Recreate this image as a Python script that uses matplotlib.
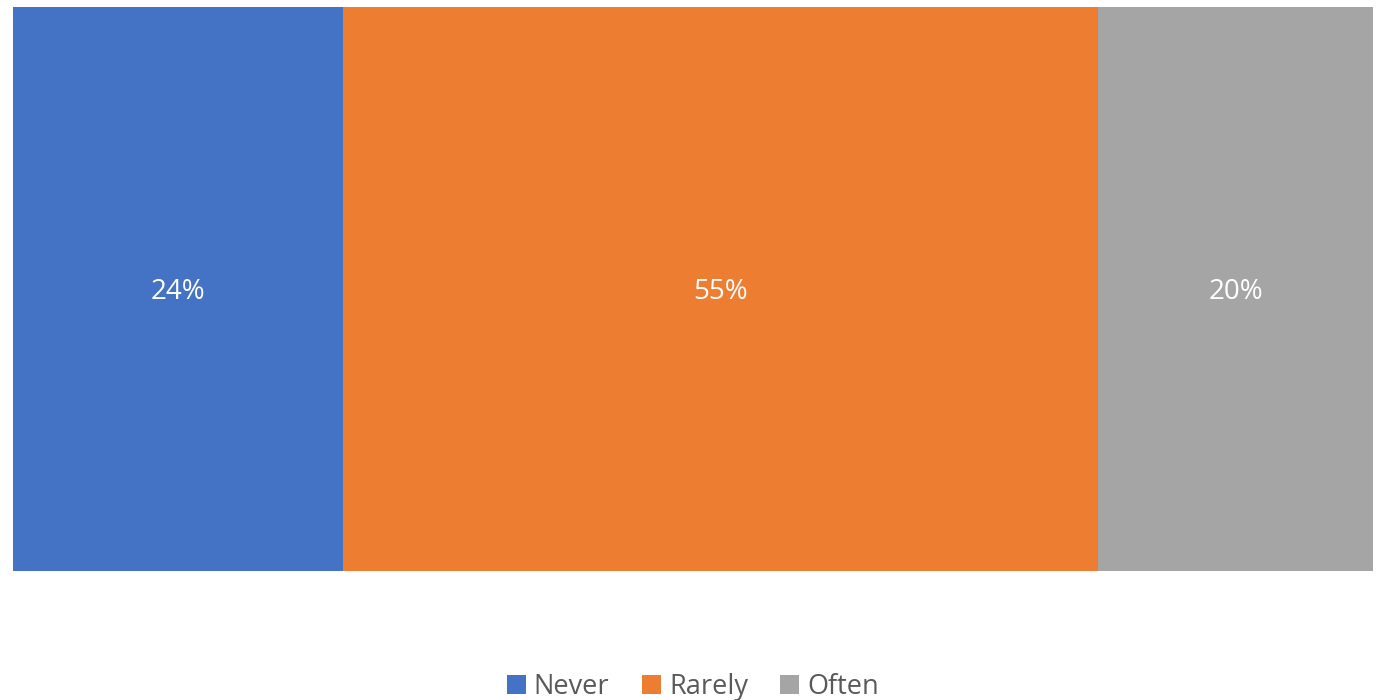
import matplotlib
matplotlib.use("Agg")
import matplotlib.pyplot as plt
from matplotlib.patches import Patch

categories = ["Never", "Rarely", "Often"]
values = [24, 55, 20]
labels = ["24%", "55%", "20%"]
colors = ["#4472C4", "#ED7D31", "#A5A5A5"]

plt.rcParams['font.family'] = ['Open Sans', 'DejaVu Sans']

W, H = 1386, 700
fig = plt.figure(figsize=(W / 100, H / 100), dpi=100)
ax = fig.add_axes([13 / W, 1 - 571 / H, (1373 - 13) / W, (571 - 7) / H])

left = 0
for cat, v, lab, c in zip(categories, values, labels, colors):
    ax.barh(0, v, left=left, height=1.0, color=c, edgecolor='none', label=cat)
    ax.text(left + v / 2, -0.005, lab, ha='center', va='center', color='white', fontsize=20)
    left += v

ax.set_xlim(0, sum(values))
ax.set_ylim(-0.5, 0.5)
ax.axis('off')

handles = [Patch(facecolor=c, edgecolor='none') for c in colors]
fig.legend(handles, categories, loc='center', bbox_to_anchor=(0.5, 1 - 687 / H),
           ncol=3, frameon=False, fontsize=19.5, labelcolor='#595959',
           handlelength=0.7, handleheight=0.7, handletextpad=0.3, columnspacing=1.2)

fig.savefig("out.png", dpi=100)
